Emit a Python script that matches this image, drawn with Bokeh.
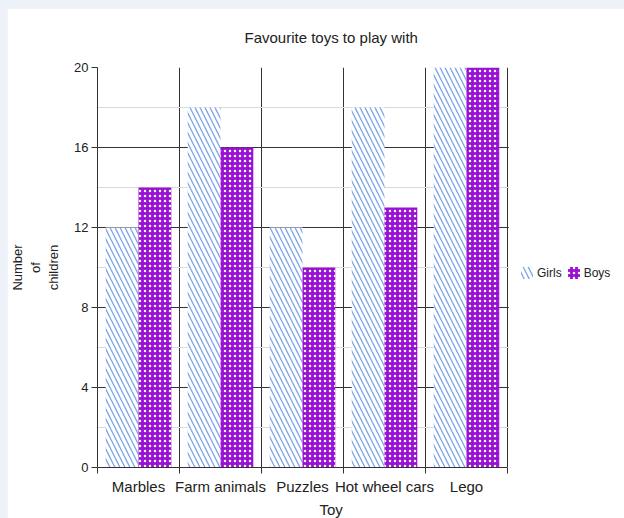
import re

from bokeh.plotting import figure
from bokeh.models import ColumnDataSource, FixedTicker, Legend, Title
from bokeh.embed import file_html
from bokeh.resources import INLINE

# Survey data: favourite toys by gender
toys = ["Marbles", "Farm animals", "Puzzles", "Hot wheel cars", "Lego"]
girls = [12, 18, 12, 18, 20]
boys = [14, 16, 10, 13, 20]
y_ticks = [0, 4, 8, 12, 16, 20]
y_minor = [2, 6, 10, 14, 18]

FONT = "Liberation Sans"
TEXT = "#222222"
DARK = "#333333"

n = len(toys)
x_end = 527 / 82          # frame runs on past the last category to hold the legend
centers = [i + 0.5 for i in range(n)]
bounds = list(range(n + 1))
src = ColumnDataSource(dict(
    x_girls=[c - 0.2 for c in centers],
    x_boys=[c + 0.2 for c in centers],
    girls=girls,
    boys=boys,
))

p = figure(width=617, height=510, x_range=(0, x_end), y_range=(0, 20),
           output_backend="svg", toolbar_location=None,
           min_border_left=90, min_border_right=0,
           min_border_top=59, min_border_bottom=51,
           background_fill_color="white",
           border_fill_color="white", outline_line_color=None)

r_girls = p.vbar(x="x_girls", top="girls", bottom=0, width=0.4, source=src,
                 fill_color="white", line_color=None,
                 hatch_pattern="left_diagonal_line", hatch_color="#7aa3e8",
                 hatch_scale=10, hatch_weight=1.3)
r_boys = p.vbar(x="x_boys", top="boys", bottom=0, width=0.4, source=src,
                fill_color="#9a10d4", line_color=None,
                hatch_pattern="dot", hatch_color="white",
                hatch_scale=5, hatch_weight=2)

# blank strip beside the chart area, so the grid stops at the last category
p.quad(left=n + 0.015, right=x_end + 1, bottom=-1, top=21,
       fill_color="white", line_color=None)

# y axis and horizontal grid
p.yaxis.ticker = FixedTicker(ticks=y_ticks, minor_ticks=y_minor)
p.ygrid.ticker = FixedTicker(ticks=y_ticks, minor_ticks=y_minor)
p.ygrid.grid_line_color = DARK
p.ygrid.minor_grid_line_color = "#d9d9d9"
p.yaxis.axis_line_color = DARK
p.yaxis.major_tick_line_color = DARK
p.yaxis.major_tick_out = 6
p.yaxis.major_tick_in = 0
p.yaxis.minor_tick_line_color = None
p.yaxis.major_label_standoff = 3
p.yaxis.major_label_text_font = FONT
p.yaxis.major_label_text_font_size = "13px"
p.yaxis.major_label_text_color = TEXT
p.yaxis.axis_label = "Number\nof\nchildren"
p.yaxis.axis_label_text_font = FONT
p.yaxis.axis_label_text_font_size = "13px"
p.yaxis.axis_label_text_font_style = "normal"
p.yaxis.axis_label_text_color = TEXT
p.yaxis.axis_label_standoff = 10

# x axis: category names centred, tick marks on the category boundaries
p.xaxis.ticker = FixedTicker(ticks=centers, minor_ticks=bounds)
p.xaxis.bounds = (0, n)
p.xaxis.major_label_overrides = {c: t for c, t in zip(centers, toys)}
p.xaxis.axis_line_color = DARK
p.xaxis.major_tick_line_color = None
p.xaxis.major_tick_out = 0
p.xaxis.major_tick_in = 0
p.xaxis.minor_tick_line_color = DARK
p.xaxis.minor_tick_out = 6
p.xaxis.minor_tick_in = 0
p.xaxis.major_label_standoff = 4
p.xaxis.major_label_text_font = FONT
p.xaxis.major_label_text_font_size = "15px"
p.xaxis.major_label_text_color = TEXT
p.xgrid.ticker = FixedTicker(ticks=bounds)
p.xgrid.grid_line_color = DARK

p.title.text = "Favourite toys to play with"
p.title.align = "left"
p.title.offset = 147
p.title.vertical_align = "top"
p.title.standoff = 40
p.title.text_font = FONT
p.title.text_font_size = "15px"
p.title.text_font_style = "normal"
p.title.text_color = TEXT

x_title = Title(text="Toy", align="left", offset=222, vertical_align="bottom",
                standoff=2, text_font=FONT, text_font_size="15px",
                text_font_style="normal", text_color=TEXT)
p.add_layout(x_title, "below")

legend = Legend(items=[("Girls", [r_girls]), ("Boys", [r_boys])],
                orientation="horizontal", location=(422, 187),
                margin=0, padding=2, spacing=4, label_standoff=3,
                glyph_width=15, glyph_height=15,
                label_text_font=FONT, label_text_font_size="12px",
                label_text_color=TEXT,
                border_line_color=None, background_fill_alpha=0)
p.add_layout(legend)

html = file_html(p, INLINE)
# light page background around the white chart panel
page_css = ("<style>html, body {margin:0; background:#edf1f8;} "
            "body {padding:8px 0 0 7px; box-sizing:border-box;}</style>")
html = re.sub(r"</head>", page_css + "</head>", html, count=1)
open("out.html", "w").write(html)
